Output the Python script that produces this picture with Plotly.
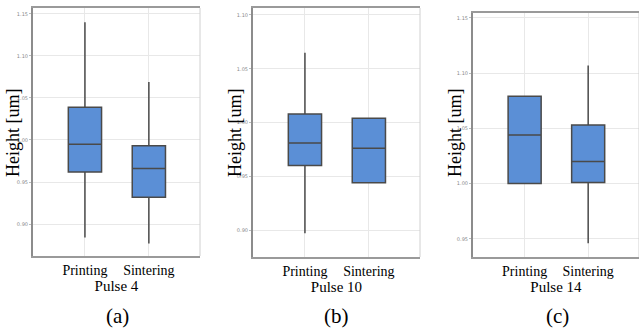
import plotly.graph_objects as go

categories = ["Printing", "Sintering"]
panel_titles = ["Pulse 4", "Pulse 10", "Pulse 14"]
panel_letters = ["(a)", "(b)", "(c)"]

# box statistics per panel: [Printing, Sintering]
lower_a = [0.884, 0.877]
q1_a = [0.962, 0.932]
med_a = [0.995, 0.966]
q3_a = [1.039, 0.993]
upper_a = [1.140, 1.069]

lower_b = [0.897, 0.944]
q1_b = [0.960, 0.944]
med_b = [0.981, 0.976]
q3_b = [1.008, 1.004]
upper_b = [1.065, 1.004]

lower_c = [1.000, 0.946]
q1_c = [1.000, 1.001]
med_c = [1.044, 1.020]
q3_c = [1.079, 1.053]
upper_c = [1.079, 1.107]

ticks_a = [0.90, 0.95, 1.00, 1.05, 1.10, 1.15]
ticks_b = [0.90, 0.95, 1.00, 1.05, 1.10]
ticks_c = [0.95, 1.00, 1.05, 1.10, 1.15]

yrange_a = [0.862, 1.157]
yrange_b = [0.875, 1.1065]
yrange_c = [0.9335, 1.1545]

W, H = 639, 330
panels = [
    dict(stats=(lower_a, q1_a, med_a, q3_a, upper_a), ticks=ticks_a, yr=yrange_a, x0=33, x1=200, top=8, bot=256, ytx=13),
    dict(stats=(lower_b, q1_b, med_b, q3_b, upper_b), ticks=ticks_b, yr=yrange_b, x0=253, x1=420, top=8, bot=257, ytx=235),
    dict(stats=(lower_c, q1_c, med_c, q3_c, upper_c), ticks=ticks_c, yr=yrange_c, x0=473, x1=639, top=13, bot=257, ytx=455),
]

fig = go.Figure()
serif = "Liberation Serif"
annotations = []
shapes = []
for i, p in enumerate(panels):
    lo, q1, md, q3, up = p["stats"]
    sfx = "" if i == 0 else str(i + 1)
    fig.add_trace(go.Box(
        x=categories, lowerfence=lo, q1=q1, median=md, q3=q3, upperfence=up,
        xaxis="x" + sfx, yaxis="y" + sfx, width=0.52, whiskerwidth=0,
        fillcolor="#5b8fd6", line=dict(color="#4a4a4a", width=1.5),
        showlegend=False, hoverinfo="skip",
    ))
    xa = dict(
        domain=[p["x0"] / W, p["x1"] / W], anchor="y" + sfx,
        type="category", range=[-0.8125, 1.8], showgrid=True, gridcolor="#e8e8e8",
        showline=True, linecolor="#9a9a9a", linewidth=1.5, mirror=True,
        ticks="", tickfont=dict(family=serif, size=14, color="black"),
        title=dict(text=panel_titles[i], font=dict(family=serif, size=15, color="black"), standoff=2),
        zeroline=False,
    )
    ya = dict(
        domain=[1 - p["bot"] / H, 1 - p["top"] / H], anchor="x" + sfx,
        range=p["yr"], tickvals=p["ticks"], ticktext=["%.2f" % t for t in p["ticks"]],
        showgrid=True, gridcolor="#e8e8e8", showline=True, linecolor="#8c8c8c",
        linewidth=2, mirror=False, ticks="outside", ticklen=2, tickcolor="#bbb",
        tickfont=dict(family="DejaVu Sans", size=5, color="#888"), zeroline=False,
    )
    fig.update_layout({"xaxis" + sfx: xa, "yaxis" + sfx: ya})
    shapes.append(dict(
        type="line", xref="x" + sfx + " domain", yref="y" + sfx + " domain",
        x0=1, x1=1, y0=0, y1=1, line=dict(color="#d0d0d0", width=1),
    ))
    annotations.append(dict(
        text="Height [um]", textangle=-90, x=p["ytx"] / W, y=1 - 133 / H,
        xref="paper", yref="paper", xanchor="center", yanchor="middle", showarrow=False,
        font=dict(family=serif, size=18, color="black"),
    ))
    annotations.append(dict(
        text=panel_letters[i], x=(p["x0"] + 84) / W,
        y=1 - 316 / H, xref="paper", yref="paper", xanchor="center", yanchor="middle",
        showarrow=False, font=dict(family=serif, size=21, color="black"),
    ))

fig.update_layout(
    width=W, height=H, margin=dict(l=0, r=0, t=0, b=0),
    paper_bgcolor="white", plot_bgcolor="white", annotations=annotations, shapes=shapes,
)
fig.write_html("out.html", config={"displayModeBar": False},
               post_script="document.body.style.margin='0';document.body.style.overflow='hidden';")
